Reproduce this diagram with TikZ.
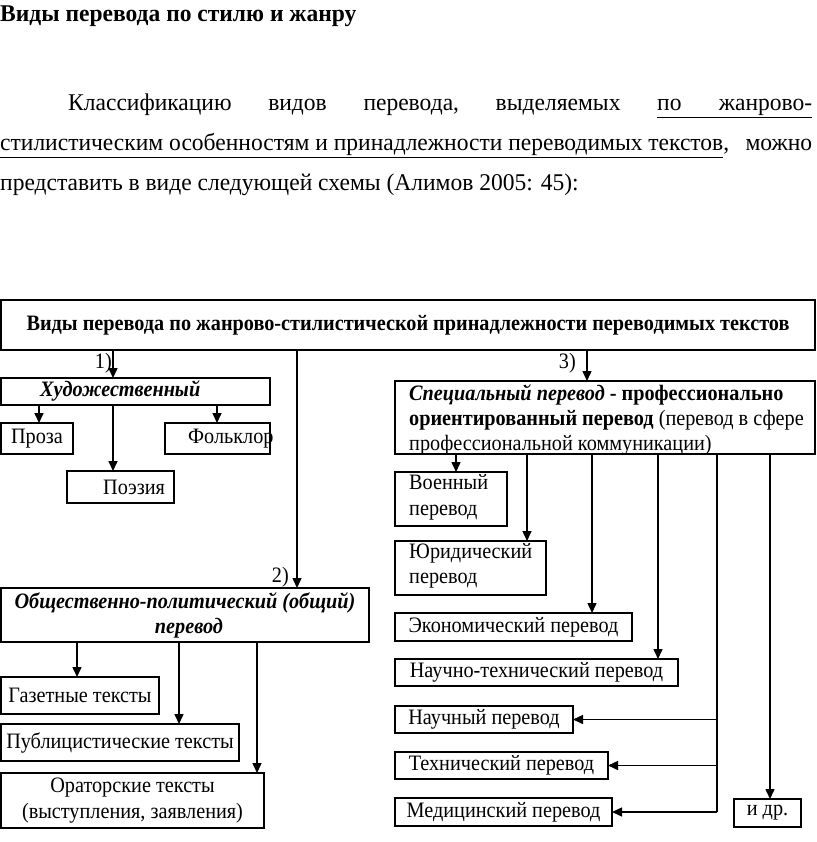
\documentclass[tikz,border=0pt]{standalone}
\usepackage{fontspec}
\setmainfont{Liberation Serif}
\newfontfamily\dfont{Liberation Serif}[FakeStretch=0.92]
\newfontfamily\pfont{Liberation Serif}[FakeStretch=0.98]
\usetikzlibrary{arrows.meta}
\newcommand\fsz[2]{\fontsize{#1}{#2}\selectfont}
\begin{document}
\begin{tikzpicture}[x=1pt,y=-1pt,
  box/.style={draw, line width=1.5pt, inner sep=0pt, outer sep=0pt, anchor=north west, font=\dfont\fsz{22}{25}},
  bw/.style={minimum width=#1pt},
  bh/.style={minimum height=#1pt},
  dtext/.style={inner sep=0pt, font=\dfont\fsz{22}{25}},
  arr/.style={line width=1.5pt, -{Triangle[length=10pt,width=9pt]}},
  ln/.style={line width=1.5pt},
]
\useasboundingbox[fill=white] (0,0) rectangle (816,842);

% heading and paragraph
\node[anchor=base west, inner sep=0pt, font=\pfont\fsz{24}{28}\bfseries] (head) at (0,22) {Виды перевода по стилю и жанру};
\node[anchor=base west, inner sep=0pt, font=\pfont\fsz{24}{28}] (p1) at (68,111) {\hbox to 744pt{Классификацию\hfill видов\hfill перевода,\hfill выделяемых\hfill\underline{\hbox to 155pt{по\hfill жанрово-}}}};
\node[anchor=base west, inner sep=0pt, font=\pfont\fsz{24}{28}] (p2) at (0,151) {\hbox to 812pt{\underline{стилистическим особенностям и принадлежности переводимых текстов},\hfill можно}};
\node[anchor=base west, inner sep=0pt, font=\pfont\fsz{24}{28}] (p3) at (0,191) {представить в виде следующей схемы (Алимов 2005: 45):};

% top box
\node[box, bw=814, bh=50, font=\dfont\fsz{22}{25}\bfseries] (top) at (1,300) {Виды перевода по жанрово-стилистической принадлежности переводимых текстов};

% left branch 1
\node[box, bw=269, bh=27] (hud) at (1,378) {};
\node[dtext, anchor=west, font=\dfont\fsz{22}{25}\bfseries\itshape] (hudt) at (40,391) {Художественный};
\node[box, bw=72, bh=31] (proza) at (1,423) {Проза};
\node[box, bw=105, bh=31] (folk) at (165,423) {};
\node[dtext, anchor=west] (folkt) at (188,439) {Фольклор};
\node[box, bw=107, bh=32] (poez) at (67,471) {};
\node[dtext, anchor=west] (poezt) at (103,487) {Поэзия};

% branch 2
\node[box, bw=368, bh=54, align=center, font=\dfont\fsz{22}{25}\bfseries\itshape] (obsch) at (1,588) {Общественно-политический (общий)\\\hspace*{8pt}перевод};
\node[box, bw=158, bh=37] (gaz) at (1,677) {Газетные тексты};
\node[box, bw=238, bh=37] (publ) at (1,724) {Публицистические тексты};
\node[box, bw=263, bh=55, align=center, font=\dfont\fsz{22}{26}] (orat) at (1,773) {Ораторские тексты\\(выступления, заявления)};

% branch 3
\node[box, bw=420, bh=73] (spec) at (395,381) {};
\node[dtext, anchor=north west, align=left] (spect) at (409,384) {\textbf{\textit{Специальный перевод}} \textbf{- профессионально}\\\textbf{ориентированный перевод} (перевод в сфере\\профессиональной коммуникации)};
\node[box, bw=112, bh=54] (voen) at (395,472) {};
\node[dtext, anchor=west, align=left, font=\dfont\fsz{22}{26}] (voent) at (409,497) {Военный\\перевод};
\node[box, bw=151, bh=54] (yur) at (395,541) {};
\node[dtext, anchor=west, align=left] (yurt) at (409,566) {Юридический\\перевод};
\node[box, bw=237, bh=28] (econ) at (395,613) {Экономический перевод};
\node[box, bw=283, bh=27] (nt) at (395,659) {Научно-технический перевод};
\node[box, bw=178, bh=27] (nauch) at (395,706) {Научный перевод};
\node[box, bw=213, bh=27] (tech) at (395,752) {Технический перевод};
\node[box, bw=217, bh=28] (med) at (395,798) {Медицинский перевод};
\node[box, bw=67, bh=28] (idr) at (734,799) {и др.};

% labels
\node[dtext, anchor=east] (l1) at (112,363) {1)};
\node[dtext, anchor=east] (l2) at (289,577) {2)};
\node[dtext, anchor=east] (l3) at (576,363) {3)};

% connectors from top
\draw[arr] (113,0 |- top.south) -- (113,0 |- hud.north);
\draw[arr] (297,0 |- top.south) -- (297,0 |- obsch.north);
\draw[arr] (587,0 |- top.south) -- (587,0 |- spec.north);

% branch 1 connectors
\draw[arr] (39,0 |- hud.south) -- (39,0 |- proza.north);
\draw[arr] (113,0 |- hud.south) -- (113,0 |- poez.north);
\draw[arr] (217,0 |- hud.south) -- (217,0 |- folk.north);

% branch 2 connectors
\draw[arr] (77,0 |- obsch.south) -- (77,0 |- gaz.north);
\draw[arr] (179,0 |- obsch.south) -- (179,0 |- publ.north);
\draw[arr] (257,0 |- obsch.south) -- (257,0 |- orat.north);

% branch 3 connectors
\draw[arr] (456,0 |- spec.south) -- (456,0 |- voen.north);
\draw[arr] (527,0 |- spec.south) -- (527,0 |- yur.north);
\draw[arr] (592,0 |- spec.south) -- (592,0 |- econ.north);
\draw[arr] (658,0 |- spec.south) -- (658,0 |- nt.north);
\draw[arr] (770,0 |- spec.south) -- (770,0 |- idr.north);
\coordinate (brtop) at (717,0 |- spec.south);
\coordinate (brn) at (717,0 |- nauch.east);
\coordinate (brt) at (717,0 |- tech.east);
\coordinate (brm) at (717,0 |- med.east);
\draw[ln] (brtop) -- (brm);
\draw[arr] (brn) -- (nauch.east);
\draw[arr] (brt) -- (tech.east);
\draw[arr] (brm) -- (med.east);
\end{tikzpicture}
\end{document}
